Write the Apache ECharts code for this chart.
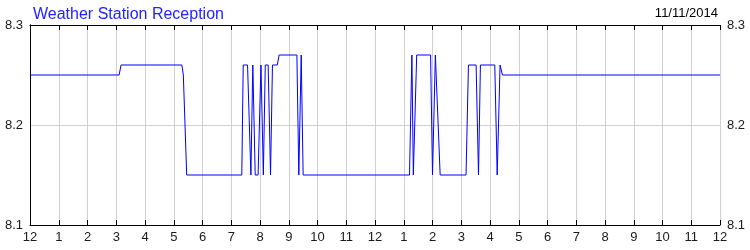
<!DOCTYPE html>
<html>
<head>
<meta charset="utf-8">
<script src="https://cdn.jsdelivr.net/npm/echarts@6/dist/echarts.min.js"></script>
<style>html,body{margin:0;padding:0;background:#fff;}#c{width:750px;height:250px;}</style>
</head>
<body>
<div id="c"></div>
<script>
var titleText = "Weather Station Reception";
var dateText = "11/11/2014";
var hourLabels = ["12","1","2","3","4","5","6","7","8","9","10","11","12","1","2","3","4","5","6","7","8","9","10","11","12"];
var yTicks = [8.1, 8.2, 8.3];
// minutes since midnight
var times = [0, 186, 190, 317, 320, 327, 442, 445, 454, 461, 465, 470, 476, 482, 487, 491, 497, 502, 506, 516, 520, 557, 561, 566, 570, 792, 797, 800, 807, 836, 840, 846, 849, 856, 910, 915, 931, 936, 940, 970, 975, 981, 986, 1440];
var values = [8.25, 8.25, 8.26, 8.26, 8.25, 8.15, 8.15, 8.26, 8.26, 8.15, 8.26, 8.15, 8.15, 8.26, 8.15, 8.26, 8.26, 8.15, 8.26, 8.26, 8.27, 8.27, 8.15, 8.27, 8.15, 8.15, 8.27, 8.15, 8.27, 8.27, 8.15, 8.27, 8.27, 8.15, 8.15, 8.26, 8.26, 8.15, 8.26, 8.26, 8.15, 8.26, 8.25, 8.25];

var data = times.map(function (t, i) { return [t, values[i]]; });
var font = "Liberation Sans";
var chart = echarts.init(document.getElementById('c'), null, {renderer: 'canvas'});
var yAxisCommon = {
  type: 'value', min: 8.1, max: 8.3, interval: 0.1,
  axisLine: {show: true, lineStyle: {color: '#000', width: 1}},
  axisTick: {show: false},
  splitLine: {show: true, lineStyle: {color: '#d0d0d0', width: 1}},
  axisLabel: {color: '#1a1a1a', fontFamily: font, fontSize: 13, margin: 7,
    formatter: function (v) { return v.toFixed(1); }}
};
chart.setOption({
  animation: false,
  backgroundColor: '#fff',
  title: [
    {text: titleText, left: 28, top: 2, padding: 5, textStyle: {color: '#2222ff', fontFamily: font, fontSize: 16, fontWeight: 'normal'}},
    {text: dateText, right: 27, top: 2, padding: 5, textStyle: {color: '#000', fontFamily: font, fontSize: 13, fontWeight: 'normal'}}
  ],
  grid: {left: 30, right: 30, top: 25, bottom: 25, containLabel: false},
  xAxis: [
    {type: 'value', min: 0, max: 1440, interval: 60, position: 'bottom',
      axisLine: {show: true, onZero: false, lineStyle: {color: '#000', width: 1}},
      axisTick: {show: true, inside: true, length: 5, lineStyle: {color: '#000'}},
      splitLine: {show: true, lineStyle: {color: '#d0d0d0', width: 1}},
      axisLabel: {color: '#1a1a1a', fontFamily: font, fontSize: 13, margin: 6,
        formatter: function (v) { return hourLabels[Math.round(v / 60)]; }}
    },
    {type: 'value', min: 0, max: 1440, interval: 60, position: 'top',
      axisLine: {show: true, onZero: false, lineStyle: {color: '#000', width: 1}},
      axisTick: {show: true, inside: true, length: 5, lineStyle: {color: '#000'}},
      splitLine: {show: false},
      axisLabel: {show: false}
    }
  ],
  yAxis: [
    Object.assign({}, yAxisCommon, {position: 'left'}),
    Object.assign({}, yAxisCommon, {position: 'right', splitLine: {show: false}})
  ],
  series: [{
    type: 'line', xAxisIndex: 0, yAxisIndex: 0, data: data,
    showSymbol: false, symbol: 'none',
    lineStyle: {color: '#0000ff', width: 1}
  }]
});
</script>
</body>
</html>
